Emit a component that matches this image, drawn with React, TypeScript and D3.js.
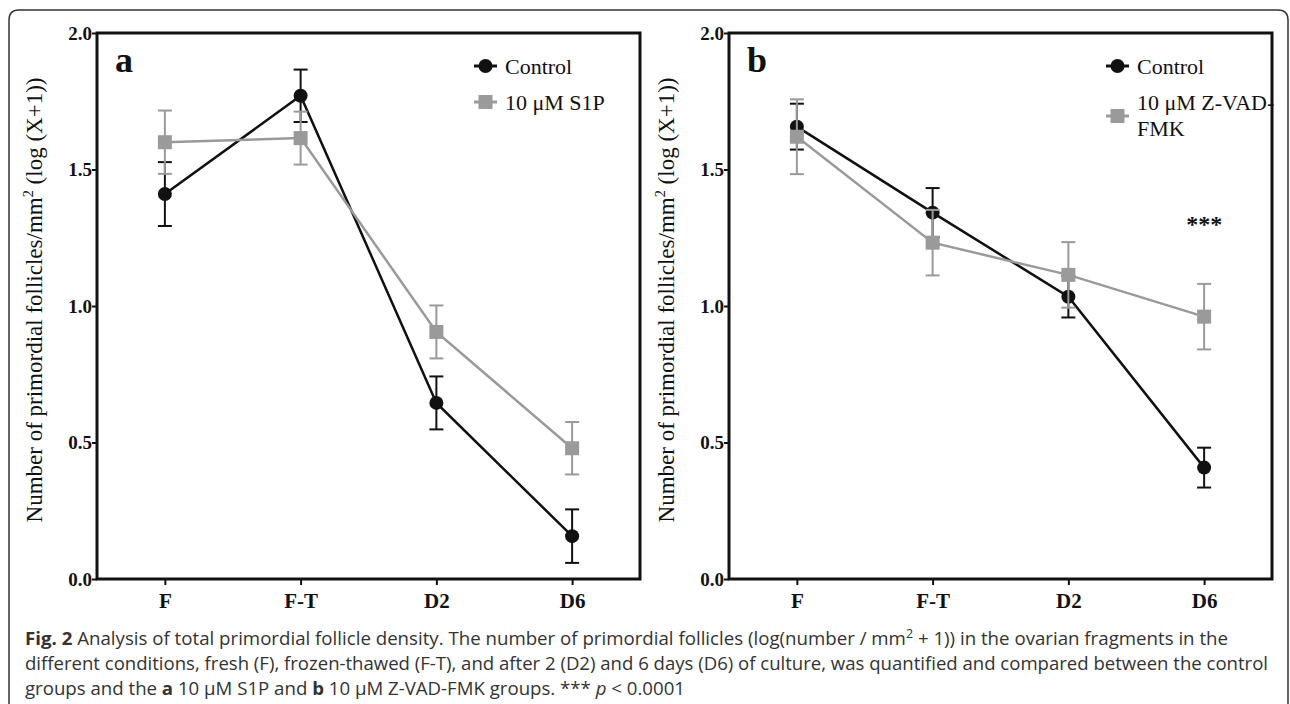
import React, { useEffect, useRef } from 'react';
import * as d3 from 'd3';

// values (log(X+1) scale)
const categories = ['F', 'F-T', 'D2', 'D6'];
const yTicks = [0, 0.5, 1.0, 1.5, 2.0];

const controlA = [1.41, 1.77, 0.645, 0.157];
const controlAErr = [0.117, 0.096, 0.097, 0.098];
const s1pA = [1.6, 1.615, 0.905, 0.479];
const s1pAErr = [0.116, 0.097, 0.097, 0.096];

const controlB = [1.657, 1.342, 1.034, 0.408];
const controlBErr = [0.084, 0.09, 0.076, 0.073];
const zvadB = [1.62, 1.232, 1.114, 0.961];
const zvadBErr = [0.137, 0.12, 0.12, 0.12];

const legendA = ['Control', '10 μM S1P'];
const legendB = ['Control', '10 μM Z-VAD-|FMK'];

const W = 1290;
const H = 704;
const TOP = 33;
const BOTTOM = 579;
const PLOT_W = 543;
const BLACK = '#111';
const GRAY = '#9a9a9a';
const serif = '"Liberation Serif", "Times New Roman", serif';
const sans = '"Open Sans", "Noto Sans", sans-serif';

const App = () => {
  const ref = useRef<SVGSVGElement>(null);

  useEffect(() => {
    const svg = d3.select(ref.current);
    svg.selectAll('*').remove();

    // outer figure border (rounded top corners, runs off the bottom)
    svg.append('path')
      .attr('d', `M9,${H + 5} L9,20 Q9,10 19,10 L1278,10 Q1288,10 1288,20 L1288,${H + 5}`)
      .attr('fill', 'none').attr('stroke', '#333').attr('stroke-width', 1.5);

    const drawPanel = (left, letter, series, legend, legendYs, stars) => {
      const x = d3.scalePoint().domain(categories).range([left, left + PLOT_W]).padding(0.5);
      const y = d3.scaleLinear().domain([0, 2]).range([BOTTOM, TOP]);
      const g = svg.append('g');

      // y axis
      const ya = g.append('g').attr('transform', `translate(${left},0)`)
        .call(d3.axisLeft(y).tickValues(yTicks).tickFormat(d3.format('.1f')).tickSize(5).tickPadding(0));
      ya.select('.domain').remove();
      ya.selectAll('line').attr('stroke', BLACK).attr('stroke-width', 2);
      ya.selectAll('text').attr('font-family', serif).attr('font-weight', 'bold')
        .attr('font-size', 19).attr('fill', BLACK).attr('dy', '0.34em');

      // x axis
      const xa = g.append('g').attr('transform', `translate(0,${BOTTOM})`)
        .call(d3.axisBottom(x).tickSize(6).tickPadding(8));
      xa.select('.domain').remove();
      xa.selectAll('line').attr('stroke', BLACK).attr('stroke-width', 2);
      xa.selectAll('text').attr('font-family', serif).attr('font-weight', 'bold')
        .attr('font-size', 21).attr('fill', BLACK).attr('dy', '0.71em');

      // frame
      g.append('rect').attr('x', left).attr('y', TOP).attr('width', PLOT_W).attr('height', BOTTOM - TOP)
        .attr('fill', 'none').attr('stroke', BLACK).attr('stroke-width', 3);

      // y title
      const cx = left - 55;
      const yt = g.append('text')
        .attr('transform', `translate(${cx},300) rotate(-90)`)
        .attr('text-anchor', 'middle').attr('font-family', serif).attr('font-size', 22.5).attr('fill', BLACK)
        .attr('textLength', 445).attr('lengthAdjust', 'spacingAndGlyphs');
      yt.append('tspan').text('Number of primordial follicles/mm');
      yt.append('tspan').attr('dy', -9).attr('font-size', 14).text('2');
      yt.append('tspan').attr('dy', 9).text(' (log (X+1))');

      // panel letter
      g.append('text').attr('x', left + 18).attr('y', 72).attr('font-family', serif)
        .attr('font-weight', 'bold').attr('font-size', 36).attr('fill', BLACK).text(letter);

      const line = d3.line<number>().x((d, i) => x(categories[i])).y(d => y(d));

      series.forEach(s => {
        const sg = g.append('g');
        sg.append('path').attr('d', line(s.values)).attr('fill', 'none')
          .attr('stroke', s.color).attr('stroke-width', 2.5);
        s.values.forEach((v, i) => {
          const cxp = x(categories[i]);
          const e = s.err[i];
          sg.append('line').attr('x1', cxp).attr('x2', cxp).attr('y1', y(v - e)).attr('y2', y(v + e))
            .attr('stroke', s.color).attr('stroke-width', 2);
          [v - e, v + e].forEach(t => {
            sg.append('line').attr('x1', cxp - 7).attr('x2', cxp + 7).attr('y1', y(t)).attr('y2', y(t))
              .attr('stroke', s.color).attr('stroke-width', 2);
          });
          if (s.shape === 'circle') {
            sg.append('circle').attr('cx', cxp).attr('cy', y(v)).attr('r', 7).attr('fill', s.color);
          } else {
            sg.append('rect').attr('x', cxp - 7).attr('y', y(v) - 7).attr('width', 14).attr('height', 14)
              .attr('fill', s.color);
          }
        });
      });

      // legend
      const lx = left + PLOT_W - 166;
      series.forEach((s, i) => {
        const ly = legendYs[i];
        g.append('line').attr('x1', lx).attr('x2', lx + 23).attr('y1', ly).attr('y2', ly)
          .attr('stroke', s.color).attr('stroke-width', 3);
        if (s.shape === 'circle') {
          g.append('circle').attr('cx', lx + 11.5).attr('cy', ly).attr('r', 7).attr('fill', s.color);
        } else {
          g.append('rect').attr('x', lx + 4.5).attr('y', ly - 7).attr('width', 14).attr('height', 14)
            .attr('fill', s.color);
        }
        const parts = legend[i].split('|');
        const t = g.append('text').attr('font-family', serif).attr('font-size', 22).attr('fill', BLACK);
        if (parts.length === 1) {
          t.attr('x', lx + 31).attr('y', ly + 8).text(parts[0]);
        } else {
          t.append('tspan').attr('x', lx + 31).attr('y', ly - 6).text(parts[0]);
          t.append('tspan').attr('x', lx + 31).attr('y', ly + 20).text(parts[1]);
        }
      });

      if (stars) {
        g.append('text').attr('x', x(categories[3])).attr('y', y(1.27)).attr('text-anchor', 'middle')
          .attr('font-family', serif).attr('font-weight', 'bold').attr('font-size', 24).attr('fill', BLACK)
          .text(stars);
      }
    };

    drawPanel(97, 'a', [
      { values: controlA, err: controlAErr, color: BLACK, shape: 'circle' },
      { values: s1pA, err: s1pAErr, color: GRAY, shape: 'square' },
    ], legendA, [66, 102], null);

    drawPanel(729, 'b', [
      { values: controlB, err: controlBErr, color: BLACK, shape: 'circle' },
      { values: zvadB, err: zvadBErr, color: GRAY, shape: 'square' },
    ], legendB, [66, 116], '***');

    // caption
    const cap = svg.append('g').attr('font-family', sans).attr('font-size', 18).attr('fill', '#333');
    const l1 = cap.append('text').attr('x', 25).attr('y', 645).attr('textLength', 1203)
      .attr('lengthAdjust', 'spacingAndGlyphs');
    l1.append('tspan').attr('font-weight', 'bold').text('Fig. 2');
    l1.append('tspan').text(' Analysis of total primordial follicle density. The number of primordial follicles (log(number / mm');
    l1.append('tspan').attr('dy', -7).attr('font-size', 12).text('2');
    l1.append('tspan').attr('dy', 7).text(' + 1)) in the ovarian fragments in the');

    cap.append('text').attr('x', 25).attr('y', 670).attr('textLength', 1243)
      .attr('lengthAdjust', 'spacingAndGlyphs')
      .text('different conditions, fresh (F), frozen-thawed (F-T), and after 2 (D2) and 6 days (D6) of culture, was quantified and compared between the control');

    const l3 = cap.append('text').attr('x', 25).attr('y', 695).attr('textLength', 660)
      .attr('lengthAdjust', 'spacingAndGlyphs');
    l3.append('tspan').text('groups and the ');
    l3.append('tspan').attr('font-weight', 'bold').text('a');
    l3.append('tspan').text(' 10 μM S1P and ');
    l3.append('tspan').attr('font-weight', 'bold').text('b');
    l3.append('tspan').text(' 10 μM Z-VAD-FMK groups. *** ');
    l3.append('tspan').attr('font-style', 'italic').text('p');
    l3.append('tspan').text(' < 0.0001');
  }, []);

  return (
    <svg ref={ref} width={W} height={H}
      style={{ position: 'absolute', left: 0, top: 0, background: '#fff' }} />
  );
};

export default App;
